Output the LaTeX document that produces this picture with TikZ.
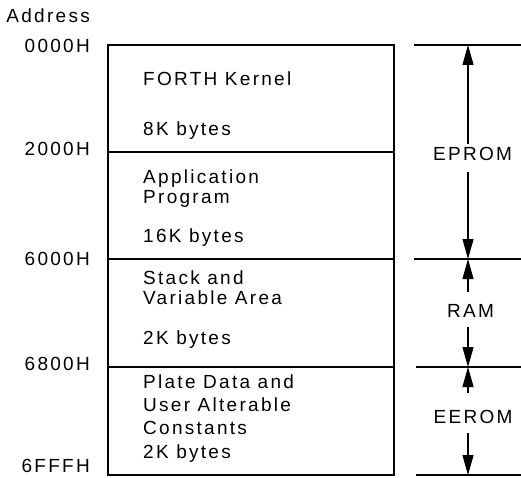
\documentclass[tikz,border=0pt]{standalone}
\usepackage{fontspec}
\setmainfont{Liberation Sans}[LetterSpace=12]
\usetikzlibrary{arrows.meta}
\tikzset{
  txt/.style={inner sep=0pt, anchor=base west, font=\fontsize{19}{22}\selectfont},
  addr/.style={inner sep=0pt, anchor=base east, font=\fontsize{19}{22}\selectfont},
  memlbl/.style={inner sep=0pt, anchor=base, font=\fontsize{19}{22}\selectfont},
  boxline/.style={line width=2.4pt},
  tick/.style={line width=1.6pt},
  dim/.style={line width=1.3pt, -{Triangle[length=20pt,width=11pt]}}
}
\begin{document}
\begin{tikzpicture}[x=1pt,y=-1pt]
\useasboundingbox (0,0) rectangle (521,478);
% memory box
\coordinate (tl) at (108,45);
\coordinate (br) at (394,475);
\draw[boxline] (tl) rectangle (br);
\coordinate (d1l) at (108,152); \coordinate (d1r) at (394,152);
\coordinate (d2l) at (108,259); \coordinate (d2r) at (394,259);
\coordinate (d3l) at (108,367); \coordinate (d3r) at (394,367);
\draw[boxline] (d1l) -- (d1r);
\draw[boxline] (d2l) -- (d2r);
\draw[boxline] (d3l) -- (d3r);
% addresses
\node[addr] (haddr) at (90,23) {Address};
\node[addr] (a0) at (90,53) {0000H};
\node[addr] (a1) at (90,156) {2000H};
\node[addr] (a2) at (90,265.5) {6000H};
\node[addr] (a3) at (90,370.5) {6800H};
\node[addr] (a4) at (90,472) {6FFFH};
% box texts
\node[txt] (k1) at (143,85.5) {FORTH Kernel};
\node[txt] (k2) at (143,136) {8K bytes};
\node[txt] (p1) at (143,183.5) {Application};
\node[txt] (p2) at (143,203.5) {Program};
\node[txt] (p3) at (143,242) {16K bytes};
\node[txt] (s1) at (143,284) {Stack and};
\node[txt] (s2) at (143,304.5) {Variable Area};
\node[txt] (s3) at (143,344) {2K bytes};
\node[txt] (c1) at (143,388.5) {Plate Data and};
\node[txt] (c2) at (143,411.5) {User Alterable};
\node[txt] (c3) at (143,434.5) {Constants};
\node[txt] (c4) at (143,458) {2K bytes};
% right ticks
\coordinate (t0l) at (414,45);  \coordinate (t0r) at (521,45);
\coordinate (t1l) at (414,259); \coordinate (t1r) at (521,259);
\coordinate (t2l) at (416,367); \coordinate (t2r) at (521,367);
\coordinate (t3l) at (416,475); \coordinate (t3r) at (521,475);
\draw[tick] (t0l) -- (t0r);
\draw[tick] (t1l) -- (t1r);
\draw[tick] (t2l) -- (t2r);
\draw[tick] (t3l) -- (t3r);
% labels
\node[memlbl] (eprom) at (472.5,161) {EPROM};
\node[memlbl] (ram) at (470.5,317.5) {RAM};
\node[memlbl] (eerom) at (473,423.5) {EEROM};
% arrows
\coordinate (ea0) at (468,45);  \coordinate (ea1) at (468,144);
\coordinate (ea2) at (468,172); \coordinate (ea3) at (468,259);
\coordinate (ra0) at (468,259); \coordinate (ra1) at (468,292);
\coordinate (ra2) at (468,327); \coordinate (ra3) at (468,367);
\coordinate (ee0) at (468,367); \coordinate (ee1) at (468,393);
\coordinate (ee2) at (468,433); \coordinate (ee3) at (468,475);
\draw[dim] (ea1) -- (ea0);
\draw[dim] (ea2) -- (ea3);
\draw[dim] (ra1) -- (ra0);
\draw[dim] (ra2) -- (ra3);
\draw[dim] (ee1) -- (ee0);
\draw[dim] (ee2) -- (ee3);
\end{tikzpicture}
\end{document}
